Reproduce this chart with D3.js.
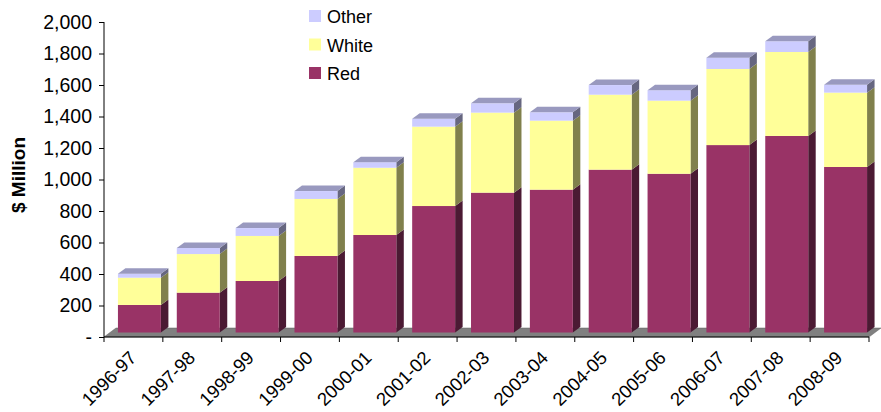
<!DOCTYPE html>
<html>
<head>
<meta charset="utf-8">
<script src="https://cdn.jsdelivr.net/npm/d3@7"></script>
<style>
  body { margin: 0; background: #fff; }
  svg { display: block; font-family: "Liberation Sans", Arial, sans-serif; }
</style>
</head>
<body>
<svg id="chart" width="881" height="412"></svg>
<script>
const categories = ["1996-97", "1997-98", "1998-99", "1999-00", "2000-01", "2001-02", "2002-03",
  "2003-04", "2004-05", "2005-06", "2006-07", "2007-08", "2008-09"];
const red = [175, 253, 327, 486, 619, 803, 888, 907, 1034, 1008, 1190, 1248, 1051];
const white = [173, 245, 286, 362, 427, 504, 508, 438, 476, 464, 483, 533, 472];
const other = [25, 39, 50, 50, 35, 50, 59, 53, 61, 66, 72, 68, 50];
const yTickValues = [0, 200, 400, 600, 800, 1000, 1200, 1400, 1600, 1800, 2000];
const seriesNames = ["Red", "White", "Other"];

const colors = {
  Red: { front: "#993366", side: "#4b1a33", top: "#b25080" },
  White: { front: "#ffff99", side: "#80804c", top: "#cccc7a" },
  Other: { front: "#ccccff", side: "#666680", top: "#9999bf" }
};

const svg = d3.select("#chart");

const x = d3.scaleBand().domain(categories).range([104, 869]).paddingInner(0.27).paddingOuter(0.135);
const y = d3.scaleLinear().domain([0, 2000]).range([337, 22]);

// 3d offsets
const floorDepth = [12, -9];
const barShift = [6, -4.5];
const barDepth = [7.5, -5.5];

// floor
svg.append("polygon")
  .attr("points", [[104, 337], [869, 337], [869 + floorDepth[0], 337 + floorDepth[1]], [104 + floorDepth[0], 337 + floorDepth[1]]].join(" "))
  .attr("fill", "#808080")
  .attr("stroke", "#606060")
  .attr("stroke-width", 0.5);

const rows = categories.map((c, i) => ({ cat: c, Red: red[i], White: white[i], Other: other[i] }));
const stacked = d3.stack().keys(seriesNames)(rows);

const bw = x.bandwidth();
const g = svg.append("g").attr("transform", `translate(${barShift[0]},${barShift[1]})`);

categories.forEach((c, i) => {
  const x0 = x(c), x1 = x0 + bw;
  stacked.forEach((s, k) => {
    const d = s[i];
    const yb = y(d[0]), yt = y(d[1]);
    const col = colors[s.key];
    g.append("polygon")
      .attr("points", [[x1, yb], [x1 + barDepth[0], yb + barDepth[1]], [x1 + barDepth[0], yt + barDepth[1]], [x1, yt]].join(" "))
      .attr("fill", col.side);
    g.append("rect")
      .attr("x", x0).attr("y", yt)
      .attr("width", bw).attr("height", yb - yt)
      .attr("fill", col.front);
    if (k === stacked.length - 1) {
      g.append("polygon")
        .attr("points", [[x0, yt], [x1, yt], [x1 + barDepth[0], yt + barDepth[1]], [x0 + barDepth[0], yt + barDepth[1]]].join(" "))
        .attr("fill", col.top);
    }
  });
});

// y axis
const yAxis = svg.append("g").attr("transform", "translate(104,0)")
  .call(d3.axisLeft(y).tickValues(yTickValues).tickSize(5).tickPadding(7)
    .tickFormat(d => d === 0 ? "-" : d3.format(",")(d)));
yAxis.select(".domain").attr("stroke", "#000").attr("d", "M0,22V337");
yAxis.selectAll("text").attr("font-size", 19.5).attr("font-family", "Liberation Sans, Arial, sans-serif").attr("fill", "#000");

// x axis
svg.append("line").attr("x1", 104).attr("x2", 869).attr("y1", 337).attr("y2", 337).attr("stroke", "#000");
svg.selectAll(".xtick").data(d3.range(categories.length + 1)).enter().append("line")
  .attr("x1", i => 104 + i * 765 / categories.length).attr("x2", i => 104 + i * 765 / categories.length)
  .attr("y1", 337).attr("y2", 342).attr("stroke", "#000");
svg.selectAll(".xlabel").data(categories).enter().append("text")
  .attr("transform", d => `translate(${x(d) + bw / 2 + 4},${359}) rotate(-45)`)
  .attr("text-anchor", "end")
  .attr("font-size", 18.5)
  .text(d => d);

// y title
svg.append("text")
  .attr("transform", "translate(25,175) rotate(-90)")
  .attr("text-anchor", "middle")
  .attr("font-weight", "bold")
  .attr("font-size", 19)
  .text("$ Million");

// legend
const legend = svg.append("g").attr("transform", "translate(309,10)");
["Other", "White", "Red"].forEach((name, i) => {
  legend.append("rect").attr("x", 0).attr("y", i * 28.5).attr("width", 12).attr("height", 12)
    .attr("fill", colors[name].front);
  legend.append("text").attr("x", 18).attr("y", i * 28.5 + 13).attr("font-size", 18).text(name);
});
</script>
</body>
</html>
